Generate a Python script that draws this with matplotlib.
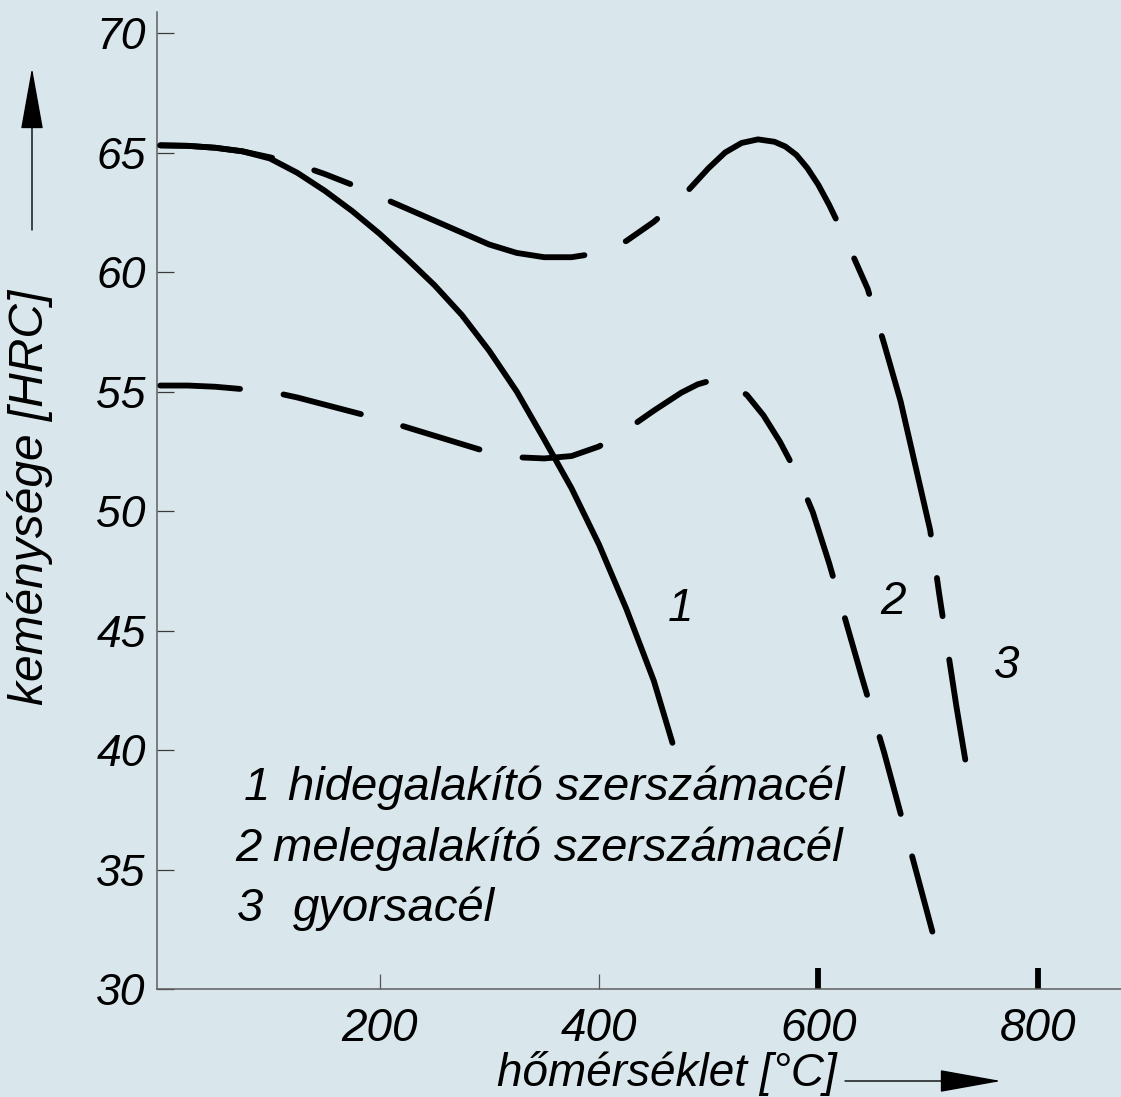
import matplotlib
matplotlib.use('Agg')
import matplotlib.pyplot as plt
from matplotlib.patches import FancyArrowPatch

# ---------------- data ----------------
# curve 1: hidegalakító szerszámacél (solid)
c1_temp = [0, 25, 50, 75, 100, 125, 150, 175, 200, 225, 250, 275, 300, 325,
           350, 375, 400, 425, 450, 467]
c1_hrc = [65.3, 65.28, 65.2, 65.05, 64.75, 64.15, 63.4, 62.55, 61.6, 60.55, 59.45, 58.2, 56.7, 55.0,
          53.0, 50.95, 48.6, 45.9, 42.9, 40.3]

# curve 2: melegalakító szerszámacél (dashed)
c2_temp = [0, 25, 50, 75, 100, 125, 150, 175, 200, 225, 250, 275, 300, 325, 350, 375,
           400, 425, 450, 475, 490, 505, 520, 535, 550, 565, 580, 595, 610, 625, 640, 660,
           680, 704]
c2_hrc = [55.25, 55.25, 55.2, 55.1, 55.0, 54.75, 54.45, 54.15, 53.85, 53.5, 53.15, 52.8, 52.45,
          52.25, 52.2, 52.3, 52.7, 53.4, 54.2, 54.95, 55.3, 55.5, 55.35, 54.85, 54.0, 52.9,
          51.6, 49.95, 47.8, 45.4, 43.0, 39.9, 36.5, 32.4]

# curve 3: gyorsacél (long-short dashed)
c3_temp = [0, 25, 50, 75, 100, 125, 150, 175, 200, 225, 250, 275, 300, 325, 350, 375,
           400, 425, 450, 475, 500, 515, 530, 545, 560, 570, 580, 590, 600, 610, 620, 630,
           645, 660, 675, 690, 702, 710, 718, 726, 734]
c3_hrc = [65.3, 65.28, 65.2, 65.05, 64.8, 64.5, 64.1, 63.65, 63.15, 62.65, 62.15, 61.65, 61.15,
          60.8, 60.62, 60.62, 60.8, 61.3, 62.1, 63.1, 64.35, 65.0, 65.4, 65.55, 65.45, 65.25,
          64.9, 64.35, 63.65, 62.8, 61.85, 60.85, 59.3, 57.0, 54.6, 51.6, 49.2, 46.6, 44.2,
          41.8, 39.6]

y_ticks = [30, 35, 40, 45, 50, 55, 60, 65, 70]
y_ticklabels = ['30', '35', '40', '45', '50', '55', '60', '65', '70']
x_ticks = [200, 400, 600, 800]
x_ticklabels = ['200', '400', '600', '800']

xlabel = 'hőmérséklet [°C]'
ylabel = 'keménysége [HRC]'
legend_nums = ['1', '2', '3']
legend_names = ['hidegalakító szerszámacél', 'melegalakító szerszámacél', 'gyorsacél']

# ---------------- style ----------------
W, H = 1121, 1097
plt.rcParams['font.family'] = ['Liberation Sans', 'DejaVu Sans']
plt.rcParams['lines.scale_dashes'] = False
BG = '#d9e7ed'
FS = 32


def fx(px):
    return px / W


def fy(py):
    return 1 - py / H


fig = plt.figure(figsize=(W / 100, H / 100), dpi=100, facecolor=BG)
ax = fig.add_axes([157 / W, (H - 989) / H, 1 - 157 / W, (989 - 12) / H])
ax.set_facecolor(BG)
ax.set_xlim(-3, 876)
ax.set_ylim(30, 70.88)

for s in ['top', 'right']:
    ax.spines[s].set_visible(False)
for s in ['left', 'bottom']:
    ax.spines[s].set_color('#5f5f5f')
    ax.spines[s].set_linewidth(1.1)

ax.set_yticks(y_ticks)
ax.set_yticklabels(y_ticklabels)
ax.set_xticks(x_ticks)
ax.set_xticklabels(x_ticklabels)
ax.tick_params(axis='y', direction='in', length=12, width=0.9, color='#3a3a3a',
               pad=8, labelsize=FS)
ax.tick_params(axis='x', direction='in', length=11, width=0.9, color='#555555',
               pad=13, labelsize=33)
for lab in ax.get_xticklabels() + ax.get_yticklabels():
    lab.set_style('italic')
for t in ax.xaxis.get_major_ticks()[2:]:
    t.tick1line.set_markeredgewidth(4.2)
    t.tick1line.set_markersize(15)
    t.tick1line.set_markeredgecolor('black')
    t.tick1line.set_zorder(5)

LW = 4.2
ax.plot(c1_temp, c1_hrc, color='black', lw=LW, solid_capstyle='round',
        solid_joinstyle='round', zorder=3)

ls2 = (0, (57.5, 31.6))
ls3 = (66, (147.3, 31.6, 27.8, 31.6))
for xs, ys, ls in [(c2_temp, c2_hrc, ls2), (c3_temp, c3_hrc, ls3)]:
    ax.plot(xs, ys, color='black', lw=LW, linestyle=ls, dash_capstyle='round',
            dash_joinstyle='round', zorder=3)

# curve numbers
tkw = dict(fontsize=33, style='italic', color='black', ha='center', va='center')
ax.text(474, 45.9, '1', **tkw)
ax.text(668, 46.2, '2', **tkw)
ax.text(772, 43.5, '3', **tkw)

# legend lines
num_x = [88.0, 80.0, 82.0]
name_x = [116.0, 102.8, 121.0]
base_y = [37.9, 35.35, 32.85]
for n, nm, nx, mx, by in zip(legend_nums, legend_names, num_x, name_x, base_y):
    ax.text(nx, by, n, fontsize=34, style='italic', ha='center', va='baseline')
    ax.text(mx, by, nm, fontsize=34, style='italic', ha='left', va='baseline')

# axis labels
fig.text(fx(497), fy(1086), xlabel, fontsize=33, style='italic', ha='left', va='baseline')
fig.text(fx(30), fy(497), ylabel, fontsize=34.5, style='italic', rotation=90,
         ha='center', va='center')

# axis arrows
arr_kw = dict(transform=fig.transFigure, arrowstyle='-|>,head_length=40,head_width=7.2',
              mutation_scale=1, lw=1.0, color='black', shrinkA=0, shrinkB=0)
fig.add_artist(FancyArrowPatch((fx(32), fy(230)), (fx(32), fy(68)), **arr_kw))
fig.add_artist(FancyArrowPatch((fx(845), fy(1081)), (fx(1001), fy(1081)), **arr_kw))

fig.savefig('out.png', dpi=100, facecolor=BG)
